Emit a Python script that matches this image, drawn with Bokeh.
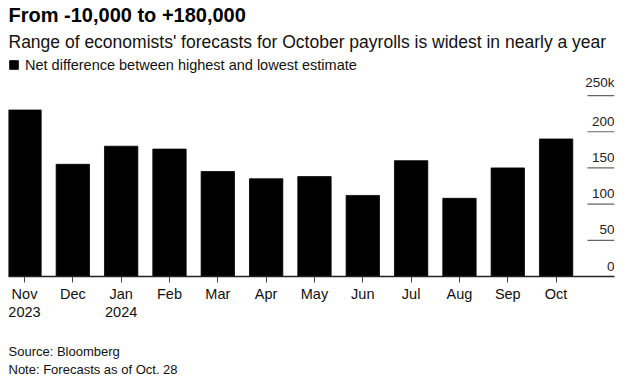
from bokeh.plotting import figure
from bokeh.models import Range1d, FixedTicker, Title, Legend, LegendItem, ColumnDataSource
from bokeh.core.properties import value
from bokeh.embed import file_html
from bokeh.resources import INLINE

# ---- data ----
months = ["Nov", "Dec", "Jan", "Feb", "Mar", "Apr", "May", "Jun", "Jul", "Aug", "Sep", "Oct"]
years = ["2023", "", "2024", "", "", "", "", "", "", "", "", ""]
spread_k = [230, 155, 180, 176, 145, 135, 138, 112, 160, 108, 150, 190]
y_ticks = [0, 50, 100, 150, 200, 250]
y_tick_labels = ["0", "50", "100", "150", "200", "250k"]

title_text = "From -10,000 to +180,000"
subtitle_text = "Range of economists' forecasts for October payrolls is widest in nearly a year"
legend_text = "Net difference between highest and lowest estimate"
source_text = "Source: Bloomberg\nNote: Forecasts as of Oct. 28"

FONT = "Liberation Sans"
x = list(range(len(months)))
X_START, X_END = -0.331, 12.208
Y_END = 306.7

p = figure(width=618, height=381, output_backend="svg", toolbar_location=None,
           x_range=Range1d(X_START, X_END), y_range=Range1d(0, Y_END),
           min_border_left=8, min_border_right=4, min_border_top=0, min_border_bottom=0,
           outline_line_color=None, y_axis_location=None, title=None)
p.grid.visible = False
p.background_fill_color = "white"
p.border_fill_color = "white"

src = ColumnDataSource(dict(x=x, v=spread_k))
bars = p.vbar(x="x", top="v", bottom=0, width=0.69, source=src,
              fill_color="black", line_color="black", line_width=0.8)

# x axis
ax = p.xaxis[0]
ax.ticker = FixedTicker(ticks=x)
ax.major_label_overrides = {i: (m + "\n" + yv) if yv else m for i, (m, yv) in enumerate(zip(months, years))}
ax.major_tick_out = 6
ax.major_tick_in = 0
ax.minor_tick_line_color = None
ax.major_tick_line_color = "#444"
ax.axis_line_color = "#222"
ax.axis_line_width = 1.5
ax.major_label_text_font = FONT
ax.major_label_text_font_size = "14.5px"
ax.major_label_text_color = "#111"
ax.major_label_text_line_height = 1.15
ax.major_label_standoff = 3
ax.axis_label = " "
ax.axis_label_text_font_size = "2px"
ax.axis_label_standoff = 9

# right-side value labels above short rules
n = len(y_ticks)
tsrc = ColumnDataSource(dict(y=y_ticks, label=y_tick_labels,
                             x0=[X_END - 0.56] * n, x1=[X_END] * n))
p.segment(x0="x0", y0="y", x1="x1", y1="y", source=tsrc, line_color="#666", line_width=1.2)
p.text(x="x1", y="y", text="label", source=tsrc, text_align="right", text_baseline="bottom",
       y_offset=-6, text_font=value(FONT), text_font_size="13.5px", text_color="#222")

# legend
legend = Legend(items=[LegendItem(label=legend_text, renderers=[bars])], location="top_left",
                margin=0, padding=0, spacing=0, glyph_width=11, glyph_height=11,
                label_standoff=6, label_height=21, label_text_font=FONT,
                label_text_font_size="14.5px", label_text_color="#111",
                border_line_color=None, background_fill_alpha=0)
p.add_layout(legend)

# titles
p.add_layout(Title(text=subtitle_text, text_font=FONT, text_font_size="17.5px",
                   text_font_style="normal", text_color="#111", align="left", standoff=5), "above")
p.add_layout(Title(text=title_text, text_font=FONT, text_font_size="20px",
                   text_font_style="bold", text_color="#000", align="left", standoff=3), "above")
p.add_layout(Title(text=source_text, text_font=FONT, text_font_size="13px",
                   text_font_style="normal", text_color="#111", align="left", standoff=10,
                   text_line_height=1.15), "below")

open("out.html", "w").write(file_html(p, INLINE))
